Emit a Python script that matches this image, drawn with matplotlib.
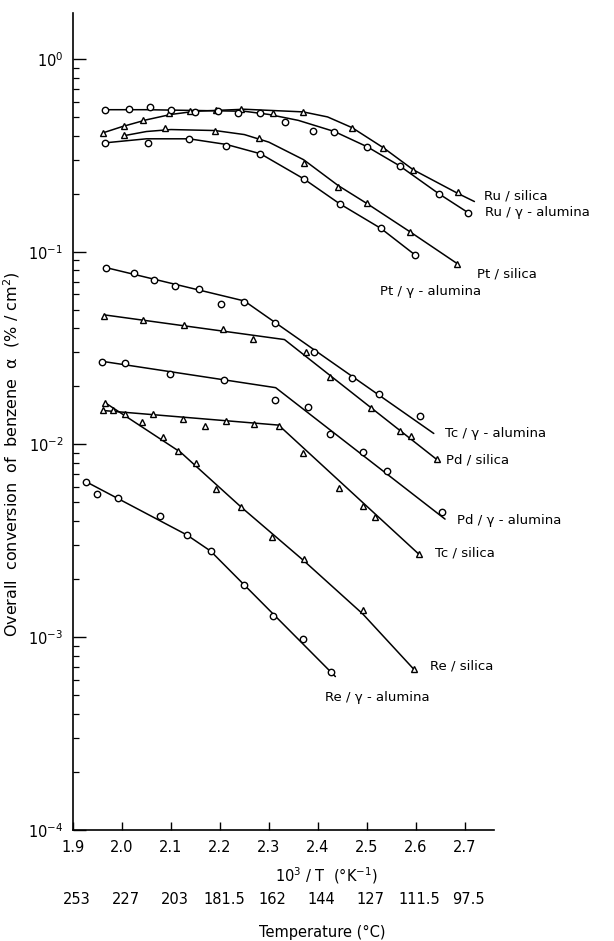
import matplotlib
matplotlib.use("Agg")
import matplotlib.pyplot as plt
import matplotlib.transforms as mtransforms
from matplotlib.ticker import LogLocator, LogFormatterSciNotation, NullFormatter, FixedLocator

plt.rcParams['font.family'] = ['DejaVu Sans']
plt.rcParams['mathtext.fontset'] = 'dejavusans'

# ---------------- data ----------------
# Ru / silica (triangles)
ru_si_x = [1.962, 2.005, 2.044, 2.097, 2.138, 2.193, 2.244, 2.309, 2.370, 2.470, 2.534, 2.595, 2.687]
ru_si_y = [0.414, 0.450, 0.483, 0.525, 0.538, 0.544, 0.551, 0.525, 0.531, 0.439, 0.346, 0.266, 0.205]
ru_si_lx = [1.962, 2.00, 2.05, 2.10, 2.15, 2.25, 2.37, 2.42, 2.47, 2.534, 2.595, 2.687, 2.72]
ru_si_ly = [0.414, 0.445, 0.483, 0.515, 0.535, 0.548, 0.531, 0.50, 0.44, 0.346, 0.266, 0.200, 0.182]

# Ru / gamma-alumina (circles)
ru_al_x = [1.966, 2.015, 2.058, 2.101, 2.150, 2.197, 2.238, 2.283, 2.333, 2.391, 2.434, 2.501, 2.567, 2.647, 2.706]
ru_al_y = [0.544, 0.551, 0.564, 0.544, 0.531, 0.538, 0.525, 0.525, 0.472, 0.424, 0.419, 0.350, 0.279, 0.200, 0.159]
ru_al_lx = [1.966, 2.05, 2.15, 2.25, 2.30, 2.36, 2.434, 2.501, 2.567, 2.647, 2.706]
ru_al_ly = [0.545, 0.545, 0.540, 0.535, 0.515, 0.480, 0.420, 0.350, 0.279, 0.200, 0.160]

# Pt / silica (triangles)
pt_si_x = [2.005, 2.087, 2.191, 2.279, 2.371, 2.442, 2.500, 2.588, 2.684]
pt_si_y = [0.404, 0.439, 0.424, 0.390, 0.289, 0.217, 0.179, 0.127, 0.0867]
pt_si_lx = [2.005, 2.05, 2.10, 2.19, 2.25, 2.30, 2.371, 2.442, 2.50, 2.588, 2.684]
pt_si_ly = [0.400, 0.420, 0.430, 0.425, 0.405, 0.370, 0.300, 0.220, 0.178, 0.127, 0.087]

# Pt / gamma-alumina (circles)
pt_al_x = [1.966, 2.054, 2.137, 2.213, 2.283, 2.371, 2.445, 2.529, 2.598]
pt_al_y = [0.367, 0.367, 0.385, 0.354, 0.322, 0.239, 0.177, 0.132, 0.0965]
pt_al_lx = [1.966, 2.05, 2.137, 2.213, 2.283, 2.371, 2.445, 2.529, 2.598]
pt_al_ly = [0.367, 0.385, 0.385, 0.360, 0.322, 0.239, 0.177, 0.132, 0.0965]

# Tc / gamma-alumina (circles)
tc_al_x = [1.968, 2.025, 2.066, 2.109, 2.158, 2.203, 2.250, 2.313, 2.393, 2.469, 2.526, 2.608]
tc_al_y = [0.0826, 0.0778, 0.0716, 0.0667, 0.0643, 0.0538, 0.0551, 0.0429, 0.0303, 0.0222, 0.0182, 0.0141]
tc_al_lx = [1.968, 2.25, 2.637]
tc_al_ly = [0.0826, 0.0555, 0.0114]

# Pd / silica (triangles)
pd_si_x = [1.964, 2.042, 2.126, 2.207, 2.267, 2.375, 2.426, 2.508, 2.569, 2.590, 2.643]
pd_si_y = [0.0461, 0.0444, 0.0418, 0.0399, 0.0354, 0.0300, 0.0225, 0.0155, 0.0117, 0.0110, 0.00836]
pd_si_lx = [1.964, 2.332, 2.643]
pd_si_ly = [0.0470, 0.0350, 0.00836]

# Pd / gamma-alumina (circles)
pd_al_x = [1.959, 2.007, 2.098, 2.208, 2.312, 2.381, 2.424, 2.492, 2.541, 2.654]
pd_al_y = [0.0269, 0.0263, 0.0233, 0.0215, 0.0171, 0.0157, 0.01127, 0.0091, 0.00725, 0.00444]
pd_al_lx = [1.959, 2.314, 2.66]
pd_al_ly = [0.0270, 0.0197, 0.0041]

# Tc / silica (triangles)
tc_si_x = [1.961, 1.982, 2.006, 2.063, 2.124, 2.169, 2.212, 2.269, 2.320, 2.369, 2.443, 2.493, 2.517, 2.607]
tc_si_y = [0.0150, 0.0150, 0.0143, 0.0143, 0.0136, 0.0124, 0.0133, 0.0127, 0.0124, 0.00898, 0.00591, 0.00477, 0.00419, 0.00269]
tc_si_lx = [1.961, 2.320, 2.607]
tc_si_ly = [0.0150, 0.0126, 0.00269]

# Re / silica (triangles)
re_si_x = [1.965, 2.041, 2.084, 2.114, 2.152, 2.193, 2.244, 2.307, 2.371, 2.492, 2.596]
re_si_y = [0.0165, 0.0130, 0.01087, 0.0092, 0.00798, 0.00585, 0.00472, 0.0033, 0.00254, 0.00138, 0.000683]
re_si_lx = [1.965, 2.12, 2.244, 2.371, 2.492, 2.596]
re_si_ly = [0.0165, 0.0091, 0.00472, 0.00250, 0.00132, 0.000683]

# Re / gamma-alumina (circles)
re_al_x = [1.927, 1.950, 1.991, 2.077, 2.132, 2.181, 2.249, 2.308, 2.370, 2.427]
re_al_y = [0.00635, 0.00551, 0.00525, 0.00424, 0.00338, 0.00279, 0.00186, 0.00129, 0.000977, 0.000659]
re_al_lx = [1.927, 2.132, 2.181, 2.436]
re_al_ly = [0.00640, 0.00340, 0.00280, 0.000625]

# curve labels
label_text = ["Ru / silica", "Ru / γ - alumina", "Pt / silica", "Pt / γ - alumina",
              "Tc / γ - alumina", "Pd / silica", "Pd / γ - alumina", "Tc / silica",
              "Re / silica", "Re / γ - alumina"]
label_x = [2.739, 2.741, 2.725, 2.527, 2.659, 2.661, 2.685, 2.640, 2.629, 2.415]
label_y = [0.194, 0.160, 0.0769, 0.0621, 0.0114, 0.00826, 0.00404, 0.00275, 0.000708, 0.000489]

# axis ticks
x_ticks = [1.9, 2.0, 2.1, 2.2, 2.3, 2.4, 2.5, 2.6, 2.7]
x_tick_labels = ["1.9", "2.0", "2.1", "2.2", "2.3", "2.4", "2.5", "2.6", "2.7"]
temp_labels = ["253", "227", "203", "181.5", "162", "144", "127", "111.5", "97.5"]

# ---------------- figure ----------------
W, H = 614, 941
fig = plt.figure(figsize=(W / 100, H / 100), dpi=100)
ax = fig.add_axes([73 / W, 1 - 830 / H, (494 - 73) / W, (830 - 13) / H])
ax.set_yscale('log')
ax.set_xlim(1.9, 2.76)
ax.set_ylim(1e-4, 1.73)

series = [
    (ru_si_x, ru_si_y, ru_si_lx, ru_si_ly, '^'),
    (ru_al_x, ru_al_y, ru_al_lx, ru_al_ly, 'o'),
    (pt_si_x, pt_si_y, pt_si_lx, pt_si_ly, '^'),
    (pt_al_x, pt_al_y, pt_al_lx, pt_al_ly, 'o'),
    (tc_al_x, tc_al_y, tc_al_lx, tc_al_ly, 'o'),
    (pd_si_x, pd_si_y, pd_si_lx, pd_si_ly, '^'),
    (pd_al_x, pd_al_y, pd_al_lx, pd_al_ly, 'o'),
    (tc_si_x, tc_si_y, tc_si_lx, tc_si_ly, '^'),
    (re_si_x, re_si_y, re_si_lx, re_si_ly, '^'),
    (re_al_x, re_al_y, re_al_lx, re_al_ly, 'o'),
]
for px, py, lx, ly, mk in series:
    ax.plot(lx, ly, color='black', lw=1.1, solid_capstyle='round', zorder=2)
    ax.plot(px, py, ls='none', marker=mk, ms=4.6 if mk == 'o' else 4.4,
            mfc='white', mec='black', mew=1.0, zorder=3)

for t, x, y in zip(label_text, label_x, label_y):
    ax.text(x, y, t, fontsize=9.5, ha='left', va='center', clip_on=False)

# spines
for s in ['top', 'right']:
    ax.spines[s].set_visible(False)
for s in ['left', 'bottom']:
    ax.spines[s].set_linewidth(1.2)

# ticks
ax.xaxis.set_major_locator(FixedLocator(x_ticks))
ax.set_xticklabels(x_tick_labels)
ax.tick_params(axis='x', which='major', direction='in', length=6, width=1.0, pad=7, labelsize=10.5)
ax.yaxis.set_major_locator(LogLocator(base=10, numticks=10))
ax.yaxis.set_minor_locator(LogLocator(base=10, subs=range(2, 10), numticks=10))
ax.yaxis.set_major_formatter(LogFormatterSciNotation())
ax.yaxis.set_minor_formatter(NullFormatter())
ax.tick_params(axis='y', which='major', direction='in', length=9, width=1.0, pad=7, labelsize=10.5)
ax.tick_params(axis='y', which='minor', direction='in', length=4, width=0.9)

# texts below the axis
tr = mtransforms.blended_transform_factory(ax.transData, fig.transFigure)
off = mtransforms.offset_copy(tr, fig=fig, x=4, y=0, units='dots')
for x, t in zip(x_ticks, temp_labels):
    ax.text(x, 1 - 899 / H, t, transform=off, ha='center', va='center', fontsize=10.5)
ax.text(2.418, 1 - 876 / H, r"10$^3$ / T  ($\degree$K$^{-1}$)", transform=tr,
        ha='center', va='center', fontsize=10.5)
ax.text(2.41, 1 - 932 / H, "Temperature (°C)", transform=tr,
        ha='center', va='center', fontsize=10.5)

fig.text(12 / W, 1 - 454 / H, r"Overall  conversion  of  benzene  α  (% / cm$^2$)",
         rotation=90, ha='center', va='center', fontsize=11.5)

fig.savefig("out.png", dpi=100)
